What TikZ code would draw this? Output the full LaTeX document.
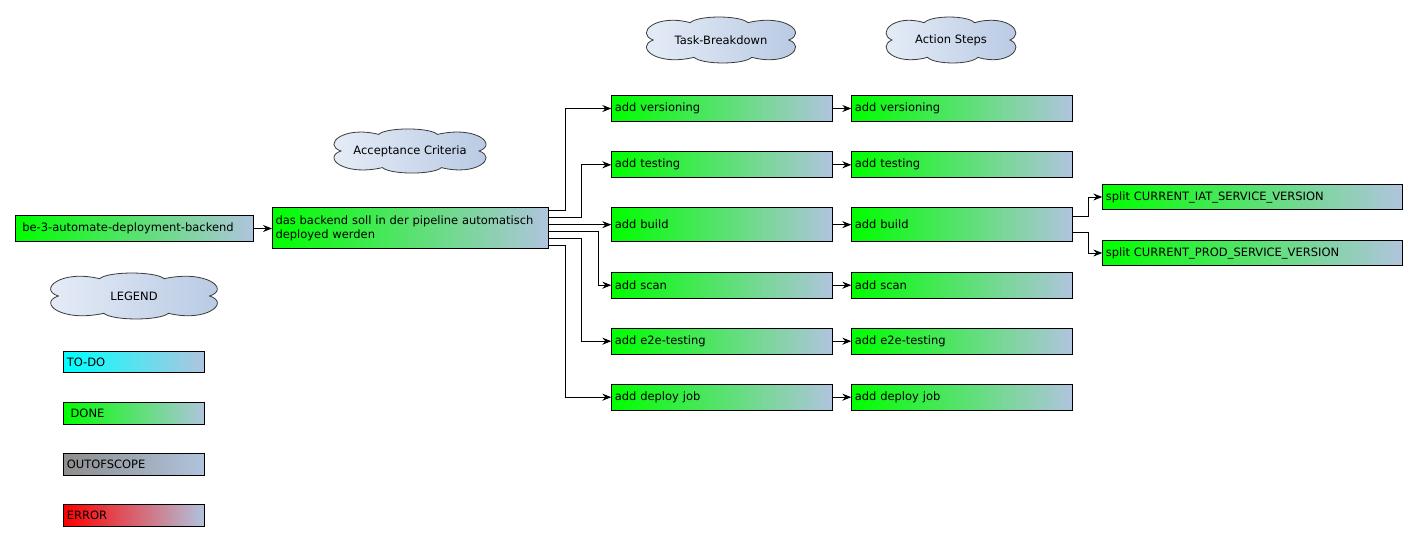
\documentclass[tikz,border=0pt]{standalone}
\usepackage{fontspec}
\setmainfont{DejaVu Sans}
\usepackage{xcolor}
\usetikzlibrary{calc}
\usetikzlibrary{arrows.meta}
\usetikzlibrary{positioning}
\definecolor{pale}{HTML}{B0C4DE}
\definecolor{cloudl}{HTML}{E8EEF8}
\definecolor{cloudr}{HTML}{B6C8E2}
\definecolor{cloudline}{HTML}{3A3A3A}
\definecolor{oos}{HTML}{8E8E8E}
\newcommand{\boxfont}{\fontsize{11.5}{14}\selectfont}
\tikzstyle{card}=[rectangle, draw, line width=1pt, anchor=north west,
inner xsep=3pt, inner ysep=0pt, align=left, font=\boxfont]
\tikzstyle{done}=[card, left color=green, right color=pale]
\tikzstyle{tk}=[done, text width=214.4pt, minimum height=26pt]
\tikzstyle{sp}=[done, text width=294pt, minimum height=25.6pt]
\tikzstyle{lg}=[card, text width=135pt, minimum height=21.3pt]
\tikzstyle{bubble}=[draw=cloudline, line width=0.8pt,
left color=cloudl, right color=cloudr]
\tikzstyle{bubbletext}=[inner sep=0pt, font=\boxfont]
\tikzstyle{link}=[draw, line width=0.9pt,
-{Stealth[length=9pt,width=7pt,inset=3pt]}]
% cloud outline: centre, half width, half height
\newcommand{\cloudshape}[3]{%
\path[bubble, shift={#1}, x=#2, y=#3]
  (-0.88,0) .. controls (-1.12,0.3) and (-0.85,1.2) .. (-0.4,0.78)
  .. controls (-0.3,1.12) and (0.25,1.12) .. (0.35,0.78)
  .. controls (0.85,1.2) and (1.12,0.3) .. (0.88,0)
  .. controls (1.12,-0.3) and (0.85,-1.2) .. (0.4,-0.78)
  .. controls (0.3,-1.12) and (-0.25,-1.12) .. (-0.35,-0.78)
  .. controls (-0.85,-1.2) and (-1.12,-0.3) .. (-0.88,0) -- cycle;}

\begin{document}
\begin{tikzpicture}[x=1pt, y=-1pt]
\useasboundingbox (0,0) rectangle (1418,540);
% headings
\cloudshape{(410,151)}{78.5pt}{21.3pt}
\node[bubbletext] (acc) at (410,151) {Acceptance Criteria};
\cloudshape{(134,296)}{86pt}{22.2pt}
\node[bubbletext] (leg) at (134,296) {LEGEND};
\cloudshape{(721,40)}{77pt}{22.2pt}
\node[bubbletext] (tbd) at (721,40) {Task-Breakdown};
\cloudshape{(951,40)}{67pt}{22.2pt}
\node[bubbletext] (act) at (951,40) {Action Steps};

\node[done, text width=232pt, minimum height=26pt] (story) at (15,215) {\ be-3-automate-deployment-backend};
\node[done, text width=270pt, minimum height=41pt] (crit) at (272,207) {das backend soll in der pipeline automatisch\\deployed werden};
\draw[link] (story.east) -- (story.east -| crit.west);

% tasks and action steps
\foreach \n/\y/\h/\t in {ver/95/26pt/add versioning, test/151.3/26pt/add testing,
  build/207.3/33.7pt/add build, scan/271.7/26pt/add scan,
  e2e/327.7/26pt/add e2e-testing, dep/383.7/26pt/add deploy job}
{
  \node[tk, minimum height=\h] (t\n) at (611.3,\y) {\t};
  \node[tk, minimum height=\h] (a\n) at (851.3,\y) {\t};
  \draw[link] (t\n) -- (a\n);
}
\foreach \t/\dy/\dx in {tver/3pt/16.5, ttest/10pt/32.5, tbuild/17pt/0,
  tscan/24pt/49, te2e/31pt/32.5, tdep/38pt/16.5}
  \draw[link] ([yshift=-\dy]crit.north east) -- ++(\dx,0) |- (\t.west);

\node[sp] (siat) at (1102.3,183.7) {split CURRENT\_IAT\_SERVICE\_VERSION};
\node[sp] (sprod) at (1102.3,239.7) {split CURRENT\_PROD\_SERVICE\_VERSION};
\draw[link] ([yshift=8pt]abuild.east) -- ++(16,0) |- (siat.west);
\draw[link] ([yshift=-8pt]abuild.east) -- ++(16,0) |- (sprod.west);

% legend
\node[lg, left color=cyan, right color=pale] (ltodo) at (63.3,351) {TO-DO};
\node[lg, left color=green, right color=pale] (ldone) at (63.3,402.3) {\ DONE};
\node[lg, left color=oos, right color=pale] (loos) at (63.3,453.3) {OUTOFSCOPE};
\node[lg, left color=red, right color=pale] (lerr) at (63.3,504.3) {ERROR};
\end{tikzpicture}
\end{document}
